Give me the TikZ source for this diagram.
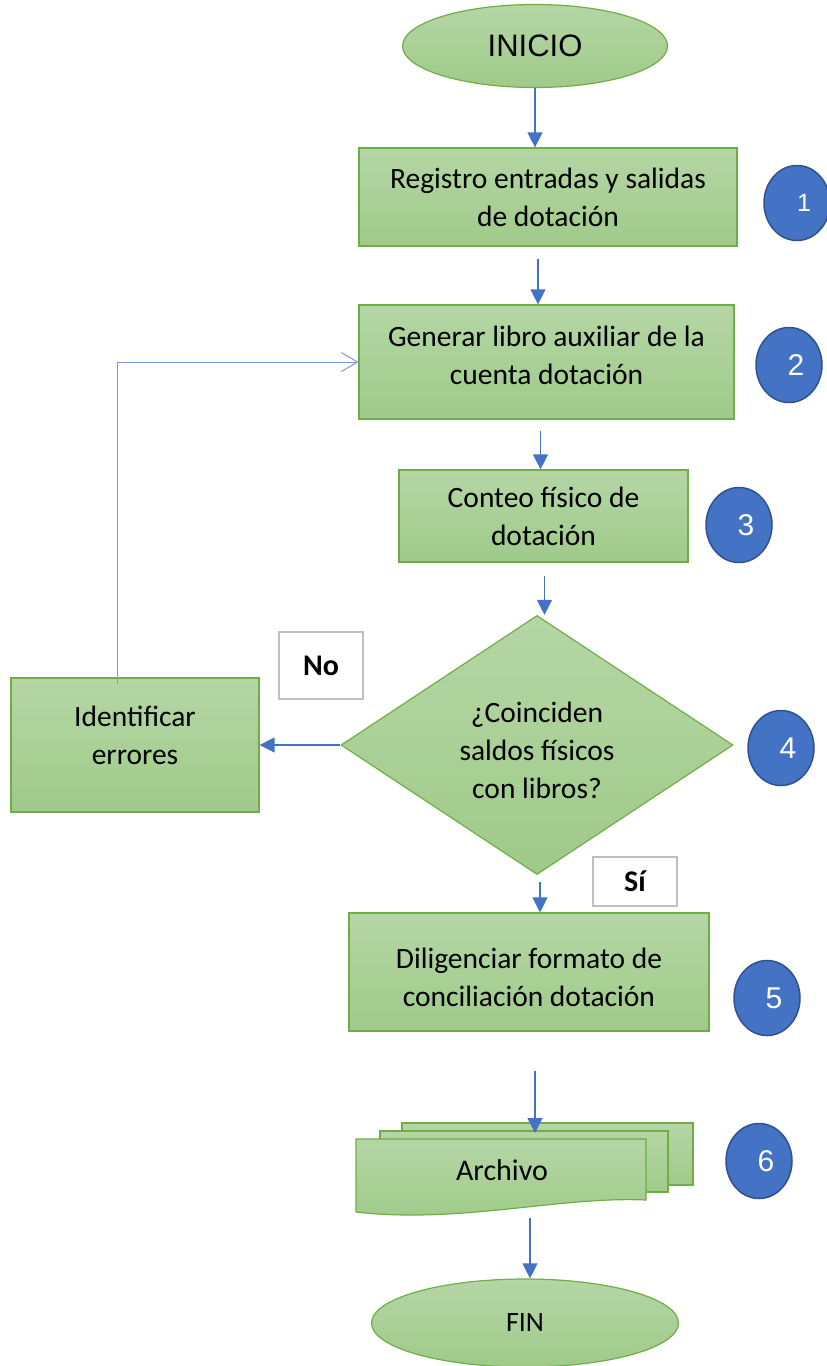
\documentclass[tikz,border=0pt]{standalone}
\usepackage{fontspec}
\setmainfont{Carlito}
\newfontfamily\arialfont{Liberation Sans}
\usetikzlibrary{arrows.meta, positioning, shapes.geometric}
\definecolor{flowgreen}{HTML}{70AD47}
\definecolor{greentop}{HTML}{B5D6A5}
\definecolor{greenbot}{HTML}{9FCA89}
\definecolor{flowblue}{HTML}{4472C4}
\definecolor{numedge}{HTML}{2F528F}
\definecolor{backblue}{HTML}{7A9BD6}
\definecolor{tagedge}{HTML}{BFBFBF}

\begin{document}
\begin{tikzpicture}[x=1pt, y=-1pt,
  box/.style={draw=flowgreen, line width=1.2pt, top color=greentop,
              bottom color=greenbot, align=center, inner sep=0pt,
              font=\fontsize{29.5}{38}\selectfont},
  term/.style={box, ellipse},
  decision/.style={box, diamond, aspect=1.5},
  sheet/.style={draw=flowgreen, line width=1.2pt, top color=greentop,
                bottom color=greenbot},
  tag/.style={draw=tagedge, line width=1.5pt, fill=white, inner sep=0pt,
              font=\bfseries\fontsize{30}{30}\selectfont},
  num/.style={ellipse, draw=numedge, line width=1.5pt, fill=flowblue,
              text=white, inner sep=0pt, minimum width=66pt,
              minimum height=75pt, font=\arialfont},
  arr/.style={-{Triangle[length=15pt, width=15pt]}, line width=1.3pt, flowblue},
  back/.style={-{Straight Barb[length=16pt, width=19pt]}, line width=1pt, backblue}
]
\useasboundingbox (0,0) rectangle (827,1366);

\node[term, minimum width=265pt, minimum height=83pt,
      font=\arialfont\fontsize{31}{31}\selectfont] (ini) at (535,46) {INICIO};
\node[box, minimum width=378pt, minimum height=98pt] (reg) at (548,197)
     {Registro entradas y salidas\\de dotación};
\node[box, minimum width=375pt, minimum height=114pt] (gen) at (546.5,362)
     {Generar libro auxiliar de la\\cuenta dotación\rule[-14pt]{0pt}{0pt}};
\node[box, minimum width=289pt, minimum height=92pt] (cont) at (543.5,516)
     {Conteo físico de\\dotación};
\node[decision, minimum width=392pt, minimum height=259pt] (dec) at (537,745)
     {\rule{0pt}{32pt}¿Coinciden\\saldos físicos\\con libros?};
\node[box, minimum width=248pt, minimum height=134pt] (err) at (135,745)
     {Identificar\\errores\rule[-20pt]{0pt}{0pt}};
\node[box, minimum width=360pt, minimum height=118pt] (dilig) at (529,972)
     {\rule{0pt}{32pt}Diligenciar formato de\\conciliación dotación};

\node[tag, minimum width=84pt, minimum height=67pt] (no) at (321,665.5) {No};
\node[tag, minimum width=84pt, minimum height=49pt] (si) at (635,881.5) {Sí};

\draw[sheet] (402,1123) rectangle (693,1185);
\draw[sheet] (380,1131) rectangle (668,1192);
\draw[sheet] (356,1139) -- (646,1139) -- (646,1200)
     .. controls (560,1196) and (460,1224) .. (356,1212) -- cycle;
\node[font=\fontsize{30}{30}\selectfont] (arch) at (502,1170) {Archivo};
\coordinate (archtop) at (535,1133);
\coordinate (archbot) at (530,1218);

\node[term, minimum width=307pt, minimum height=88pt,
      font=\fontsize{28}{28}\selectfont] (fin) at (525,1323) {FIN};

\foreach \n/\x/\y/\s in {1/797/203/25, 2/789/365/30, 3/739/525/30,
                         4/781/748/30, 5/767/998/30, 6/759/1161/30}
  \node[num] (n\n) at (\x,\y) {\fontsize{\s}{\s}\selectfont\hspace*{14pt}\n};

\draw[arr] (ini.south) -- (ini.south |- reg.north);
\draw[arr, shorten <=12pt] ([xshift=-10pt]reg.south) -- ([xshift=-10pt]reg.south |- gen.north);
\draw[arr, shorten <=11pt] ([xshift=-6pt]gen.south) -- ([xshift=-6pt]gen.south |- cont.north);
\draw[arr, shorten <=13pt] ([xshift=1pt]cont.south) -- ([xshift=1pt]cont.south |- dec.north);
\draw[arr] (dec.west) -- (err.east);
\draw[back] ([xshift=-18pt, yshift=-7pt]err.north) |- (gen.west);
\draw[arr, shorten <=7pt] ([xshift=3pt]dec.south) -- ([xshift=3pt]dec.south |- dilig.north);
\draw[arr, shorten <=39pt] (dilig.south -| archtop) -- (archtop);
\draw[arr] (archbot) -- (archbot |- fin.north);
\end{tikzpicture}
\end{document}
